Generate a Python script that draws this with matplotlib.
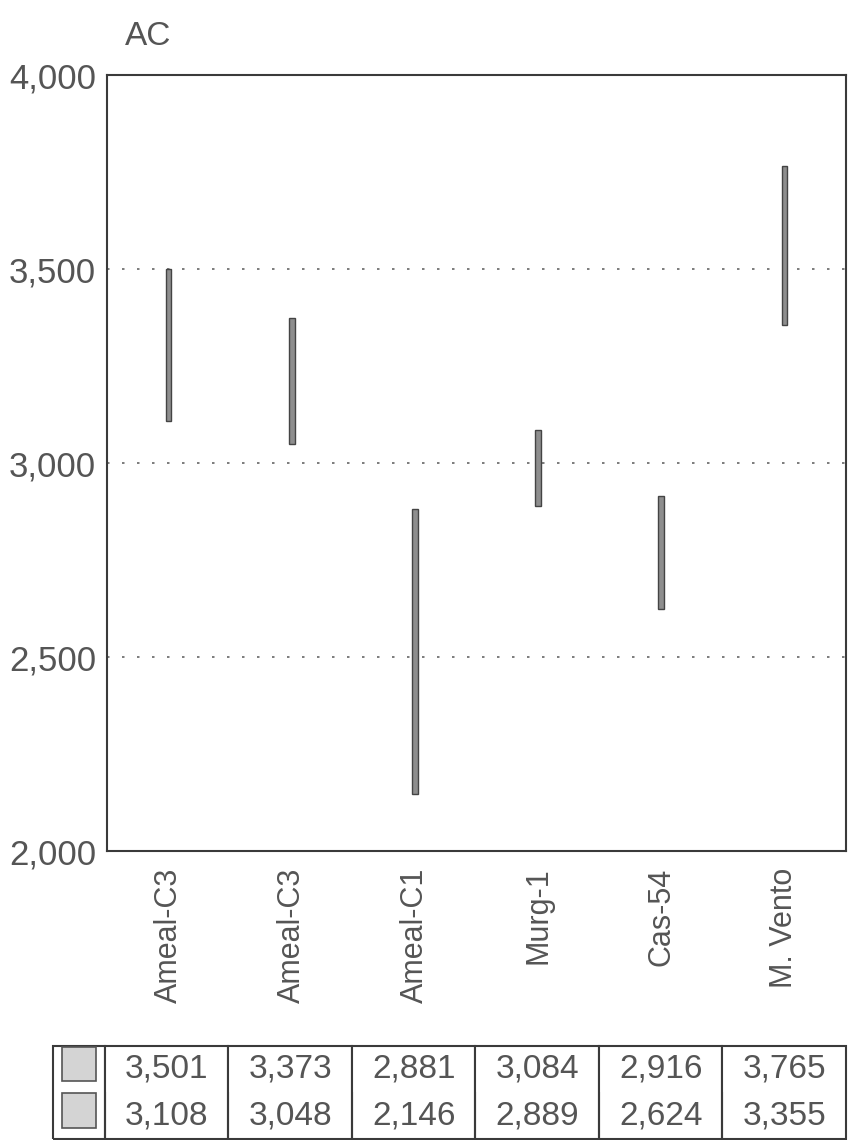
import matplotlib.pyplot as plt
from matplotlib.patches import Rectangle
from matplotlib.ticker import FuncFormatter

plt.rcParams['font.family'] = ['Liberation Sans', 'DejaVu Sans']

categories = ["Ameal-C3", "Ameal-C3", "Ameal-C1", "Murg-1", "Cas-54", "M. Vento"]
highs = [3501, 3373, 2881, 3084, 2916, 3765]
lows = [3108, 3048, 2146, 2889, 2624, 3355]
yticks = [2000, 2500, 3000, 3500, 4000]

text_col = "#555555"
line_col = "#3a3a3a"

fig = plt.figure(figsize=(8.48, 11.4), dpi=100)
ax = fig.add_axes([0.1262, 0.2535, 0.8714, 0.6807])

x = range(len(categories))
ax.bar(x, [h - l for h, l in zip(highs, lows)], bottom=lows, width=0.045,
       color="#8e8e8e", edgecolor="#444444", linewidth=1.0, zorder=3)

ax.set_xlim(-0.5, len(categories) - 0.5)
ax.set_ylim(2000, 4000)
ax.set_yticks(yticks)
ax.yaxis.set_major_formatter(FuncFormatter(lambda v, p: f"{int(v):,}"))
ax.set_xticks(list(x))
ax.set_xticklabels(categories, rotation=90, fontsize=22, color=text_col)
ax.tick_params(axis="y", length=0, labelsize=25, labelcolor=text_col, pad=8)
ax.tick_params(axis="x", length=0, pad=12)
for yv in yticks[1:-1]:
    ax.axhline(yv, color="#666666", linestyle=(0, (1.5, 7.5)), linewidth=1.2, zorder=1)
for s in ax.spines.values():
    s.set_color(line_col)
    s.set_linewidth(1.5)

fig.text(0.147, 0.968, "AC", fontsize=24, color=text_col, ha="left", va="center")

# data table under the chart
tax = fig.add_axes([0.0625, 0.0009, 0.9351, 0.0816])
tax.set_axis_off()
cell_text = [[""] + [f"{v:,}" for v in highs], [""] + [f"{v:,}" for v in lows]]
sw = 52 / 793
cw = (1 - sw) / len(categories)
tbl = tax.table(cellText=cell_text, colWidths=[sw] + [cw] * len(categories),
                cellLoc="center", bbox=[0, 0, 1, 1])
tbl.auto_set_font_size(False)
for (r, c), cell in tbl.get_celld().items():
    cell.set_edgecolor(line_col)
    cell.set_linewidth(1.5)
    cell.visible_edges = "LRT" if r == 0 else "LRB"
    cell.get_text().set_fontsize(24)
    cell.get_text().set_color(text_col)

# grey swatches in the first column
for r in range(2):
    y0 = 0.5 if r == 0 else 0.0
    tax.add_patch(Rectangle((sw * 0.17, y0 + 0.12), sw * 0.66, 0.37,
                            transform=tax.transAxes, facecolor="#d4d4d4",
                            edgecolor="#555555", linewidth=1.2, zorder=5))

fig.savefig("out.png", dpi=100)
